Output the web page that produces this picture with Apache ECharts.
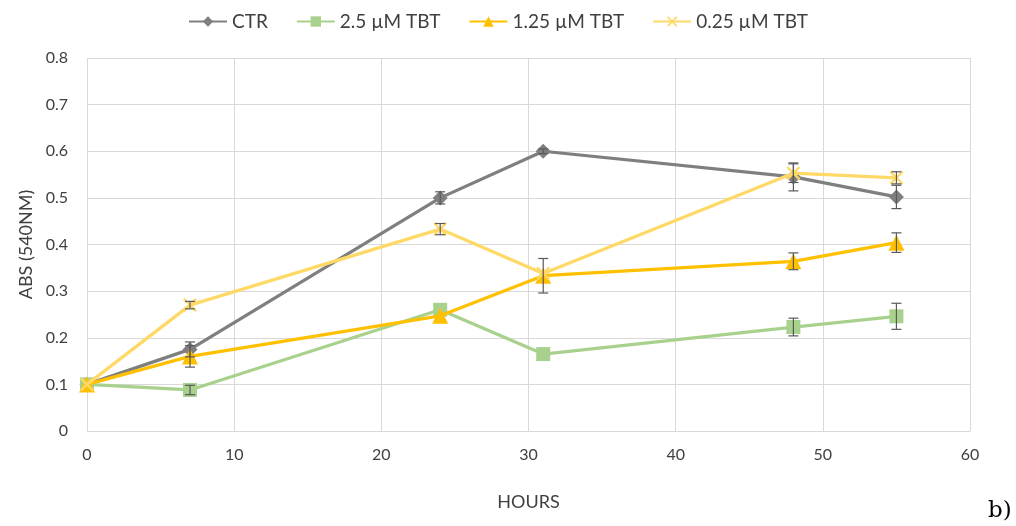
<!DOCTYPE html>
<html>
<head>
<meta charset="utf-8">
<script src="https://cdn.jsdelivr.net/npm/echarts@6/dist/echarts.min.js"></script>
<style>
  html, body { margin: 0; padding: 0; background: #fff; }
  #chart { width: 1016px; height: 526px; }
  #tag { position: absolute; left: 988px; top: 496px; font-family: "DejaVu Serif", "Liberation Serif", serif; font-size: 23px; color: #000; }
</style>
</head>
<body>
<div id="chart"></div>
<div id="tag">b)</div>
<script>
// Absorbance at 540 nm over time for each treatment
const hours = [0, 7, 24, 31, 48, 55];

const ctr      = [0.100, 0.175, 0.500, 0.600, 0.545, 0.502];
const tbt2_5   = [0.100, 0.088, 0.260, 0.165, 0.223, 0.246];
const tbt1_25  = [0.100, 0.160, 0.247, 0.333, 0.364, 0.404];
const tbt0_25  = [0.100, 0.270, 0.433, 0.338, 0.553, 0.543];

// Standard errors
const ctrErr     = [0.000, 0.016, 0.013, 0.005, 0.030, 0.025];
const tbt2_5Err  = [0.000, 0.010, 0.000, 0.000, 0.019, 0.028];
const tbt1_25Err = [0.000, 0.023, 0.000, 0.037, 0.018, 0.021];
const tbt0_25Err = [0.000, 0.008, 0.012, 0.000, 0.020, 0.013];

const names = ['CTR', '2.5 µM TBT', '1.25 µM TBT', '0.25 µM TBT'];
const colors = ['#7f7f7f', '#a9d18e', '#ffc000', '#ffd966'];
const values = [ctr, tbt2_5, tbt1_25, tbt0_25];
const errors = [ctrErr, tbt2_5Err, tbt1_25Err, tbt0_25Err];
const symbols = [
  'diamond',
  'rect',
  'triangle',
  'path://M0,1.2L1.2,0L5,3.8L8.8,0L10,1.2L6.2,5L10,8.8L8.8,10L5,6.2L1.2,10L0,8.8L3.8,5Z'
];
const symbolSizes = [15, 14, 16, 14];

const font = 'Lato, "Open Sans", sans-serif';

const lineSeries = names.map((name, i) => ({
  name: name,
  type: 'line',
  data: hours.map((h, j) => [h, values[i][j]]),
  symbol: symbols[i],
  symbolSize: symbolSizes[i],
  lineStyle: { color: colors[i], width: 3.25 },
  itemStyle: { color: colors[i] },
  z: 2 + i
}));

// Error bars with caps, placed through the axis scales
const errorSeries = names.map((name, i) => ({
  type: 'custom',
  data: hours.map((h, j) => [h, values[i][j] - errors[i][j], values[i][j] + errors[i][j], errors[i][j]]),
  z: 10,
  silent: true,
  renderItem: function (params, api) {
    if (api.value(3) <= 0) return null;
    const lo = api.coord([api.value(0), api.value(1)]);
    const hi = api.coord([api.value(0), api.value(2)]);
    const w = 5;
    const style = { stroke: '#595959', lineWidth: 1.2, fill: null };
    return {
      type: 'group',
      children: [
        { type: 'line', shape: { x1: lo[0], y1: lo[1], x2: hi[0], y2: hi[1] }, style: style },
        { type: 'line', shape: { x1: lo[0] - w, y1: lo[1], x2: lo[0] + w, y2: lo[1] }, style: style },
        { type: 'line', shape: { x1: hi[0] - w, y1: hi[1], x2: hi[0] + w, y2: hi[1] }, style: style }
      ]
    };
  }
}));

const chart = echarts.init(document.getElementById('chart'), null, { renderer: 'canvas' });
chart.setOption({
  animation: false,
  backgroundColor: '#fff',
  legend: {
    data: names,
    top: 7,
    left: 183,
    itemWidth: 38,
    itemHeight: 13,
    itemGap: 28,
    textStyle: { fontFamily: font, fontSize: 19, color: '#404040' }
  },
  grid: { left: 87, right: 46, top: 58, bottom: 95 },
  xAxis: {
    type: 'value',
    min: 0, max: 60, interval: 10,
    name: 'HOURS',
    nameLocation: 'middle',
    nameGap: 62,
    nameTextStyle: { fontFamily: font, fontSize: 18, color: '#404040' },
    axisLine: { show: true, lineStyle: { color: '#d9d9d9' } },
    axisTick: { show: false },
    axisLabel: { margin: 16, fontFamily: font, fontSize: 16, color: '#404040' },
    splitLine: { show: true, lineStyle: { color: '#d9d9d9' } }
  },
  yAxis: {
    type: 'value',
    min: 0, max: 0.8, interval: 0.1,
    name: 'ABS (540NM)',
    nameLocation: 'middle',
    nameGap: 51,
    nameTextStyle: { fontFamily: font, fontSize: 18, color: '#404040' },
    axisLine: { show: false },
    axisTick: { show: false },
    axisLabel: { margin: 19, fontFamily: font, fontSize: 16, color: '#404040',
      formatter: v => (v === 0 ? '0' : v.toFixed(1)) },
    splitLine: { show: true, lineStyle: { color: '#d9d9d9' } }
  },
  series: lineSeries.concat(errorSeries)
});
</script>
</body>
</html>
